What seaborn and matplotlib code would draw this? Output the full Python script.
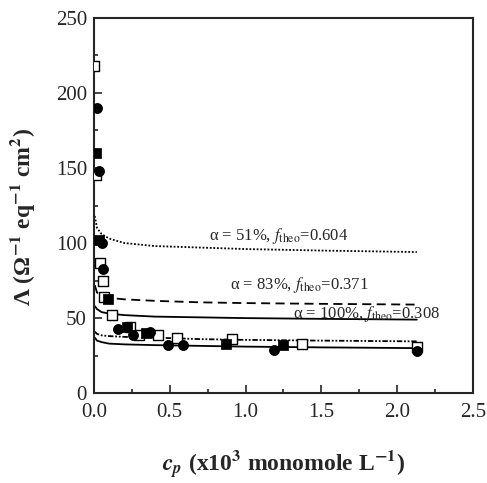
import numpy as np
import pandas as pd
import matplotlib
matplotlib.use("Agg")
import matplotlib.pyplot as plt
import seaborn as sns
from matplotlib.ticker import MultipleLocator, FormatStrFormatter

# measured points (x in 10^3 monomole/L)
open_sq_x = [0.0, 0.013, 0.04, 0.06, 0.066, 0.12, 0.24, 0.30, 0.42, 0.55, 0.91, 1.37, 2.13]
open_sq_y = [218, 145, 87, 75, 64, 52, 44, 39, 39, 37, 36, 33, 31]
circ_x = [0.02, 0.03, 0.05, 0.06, 0.16, 0.26, 0.37, 0.49, 0.59, 1.19, 2.13]
circ_y = [190, 148, 100, 83, 43, 39, 41, 32, 32, 29, 28]
fsq_x = [0.01, 0.03, 0.09, 0.22, 0.34, 0.87, 1.25]
fsq_y = [160, 102, 63, 44, 40, 33, 32]

# theory curves
curve_x = [0.005, 0.02, 0.05, 0.1, 0.2, 0.4, 0.7, 1.0, 1.5, 2.13]
a51_y = [118, 110, 106, 103, 100, 98, 97, 96, 95, 94]
a83_y = [72, 67, 65, 63.5, 62.5, 61.5, 60.5, 60, 59.5, 59]
a100_y = [58, 56, 54, 53, 52, 51, 50.5, 50, 49.5, 49]
low_dot_y = [41, 39.5, 38.5, 38, 37.5, 37, 36, 35.5, 35, 34.5]
low_sol_y = [37, 35, 34, 33, 32.5, 32, 31.5, 31, 30.5, 30]

# annotation labels and anchor points
ann_text = [r"α = 51%, $f_{\rm theo}$=0.604",
            r"α = 83%, $f_{\rm theo}$=0.371",
            r"α = 100%, $f_{\rm theo}$=0.308"]
ann_x = [0.757, 0.90, 1.31]
ann_y = [107, 74, 55]

sns.set_style("ticks")
plt.rcParams['font.family'] = ['Liberation Serif', 'DejaVu Serif']
plt.rcParams['mathtext.fontset'] = 'stix'

fig = plt.figure(figsize=(4.87, 4.83), dpi=100)
ax = fig.add_axes([0.193, 0.186, 0.778, 0.777])

lw = 1.3
sns.lineplot(x=curve_x, y=a51_y, ax=ax, color='black', lw=lw, linestyle=(0, (1, 1)))
sns.lineplot(x=curve_x, y=a83_y, ax=ax, color='black', lw=lw, linestyle=(0, (5, 3)))
sns.lineplot(x=curve_x, y=a100_y, ax=ax, color='black', lw=lw)
sns.lineplot(x=curve_x, y=low_dot_y, ax=ax, color='black', lw=lw, linestyle=(0, (3, 1, 1, 1, 1, 1)))
sns.lineplot(x=curve_x, y=low_sol_y, ax=ax, color='black', lw=lw)

sns.scatterplot(x=open_sq_x, y=open_sq_y, ax=ax, marker='s', s=42,
                facecolor='white', edgecolor='black', linewidth=1, zorder=3)
sns.scatterplot(x=circ_x, y=circ_y, ax=ax, marker='o', s=52,
                color='black', edgecolor='black', zorder=3)
sns.scatterplot(x=fsq_x, y=fsq_y, ax=ax, marker='s', s=42,
                color='black', edgecolor='black', zorder=3)

for t, tx, ty in zip(ann_text, ann_x, ann_y):
    ax.text(tx, ty, t, fontsize=12, va='center_baseline')

ax.set_xlim(0, 2.5)
ax.set_ylim(0, 250)
ax.xaxis.set_major_locator(MultipleLocator(0.5))
ax.xaxis.set_minor_locator(MultipleLocator(0.25))
ax.yaxis.set_major_locator(MultipleLocator(50))
ax.yaxis.set_minor_locator(MultipleLocator(25))
ax.xaxis.set_major_formatter(FormatStrFormatter('%.1f'))
ax.tick_params(which='both', direction='in', top=False, right=False, labelsize=15, width=1.2)
ax.tick_params(which='major', length=6)
ax.tick_params(which='minor', length=3)
ax.tick_params(axis='x', pad=7)
ax.tick_params(axis='y', pad=5)
for sp in ax.spines.values():
    sp.set_linewidth(1.5)
    sp.set_visible(True)

ax.set_xlabel(r"$\mathbfit{c}_{\mathbfit{p}}$ (x10$^{\mathbf{3}}$ monomole L$^{\mathbf{-1}}$)",
              fontsize=17, fontweight='bold', labelpad=19)
ax.set_ylabel(r"Λ (Ω$^{\mathbf{-1}}$ eq$^{\mathbf{-1}}$ cm$^{\mathbf{2}}$)", fontsize=17,
              fontweight='bold')
ax.yaxis.set_label_coords(-0.150, 0.47)

fig.savefig("out.png", dpi=100)
